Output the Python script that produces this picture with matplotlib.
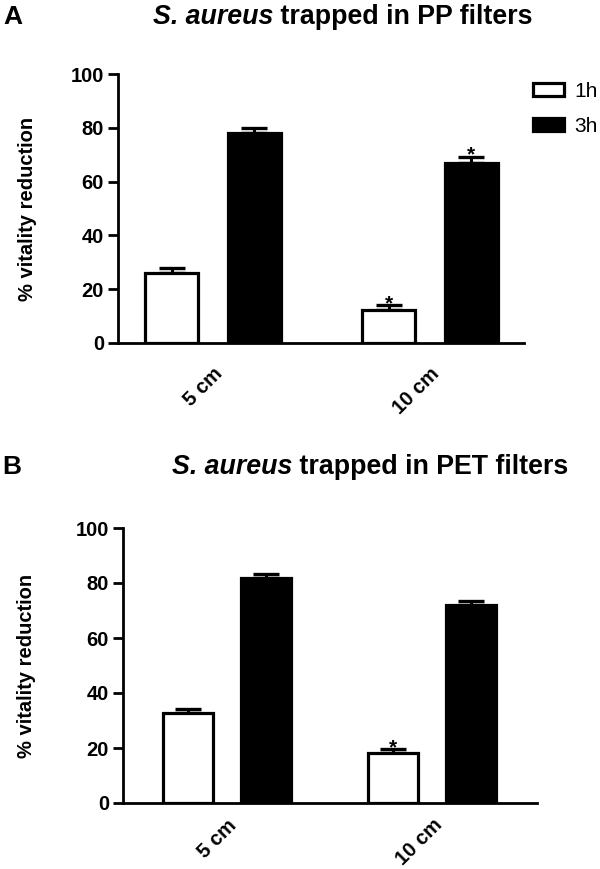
import numpy as np
from matplotlib import pyplot as plt

plt.rcParams['font.family'] = ['Liberation Sans', 'DejaVu Sans']

# data
distances = ["5 cm", "10 cm"]
times = ["1h", "3h"]

pp_1h = [26.0, 12.3]
pp_1h_err = [1.8, 1.8]
pp_3h = [78.0, 67.1]
pp_3h_err = [2.0, 2.2]
pp_stars_1h = ["", "*"]
pp_stars_3h = ["", "*"]

pet_1h = [32.7, 18.1]
pet_1h_err = [1.6, 1.5]
pet_3h = [81.8, 72.0]
pet_3h_err = [1.5, 1.4]
pet_stars_1h = ["", "*"]
pet_stars_3h = ["", ""]

yticks = [0, 20, 40, 60, 80, 100]

W, H = 600, 869
fig = plt.figure(figsize=(W / 100, H / 100), dpi=100)


def fx(px):
    return px / W


def fy(py):
    return 1 - py / H


def panel(rect, v1, e1, v3, e3, s1, s3, xlim, xpad):
    ax = fig.add_axes(rect)
    x = np.arange(len(distances))
    off = 0.19
    wid = 0.245
    b1 = ax.bar(x - off, v1, wid, color="white", edgecolor="black", linewidth=2.3, label=times[0], zorder=3)
    b3 = ax.bar(x + off, v3, wid, color="black", edgecolor="black", linewidth=2.3, label=times[1], zorder=3)
    ax.errorbar(x - off, v1, yerr=[np.zeros(len(v1)), e1], fmt="none", ecolor="black",
                elinewidth=2.2, capsize=9.5, capthick=2.4, zorder=2)
    ax.errorbar(x + off, v3, yerr=[np.zeros(len(v3)), e3], fmt="none", ecolor="black",
                elinewidth=2.2, capsize=9.5, capthick=2.4, zorder=2)
    for xi, v, e, s in zip(x - off, v1, e1, s1):
        if s:
            ax.text(xi, v + e - 1.5, s, ha="center", va="baseline", fontsize=15, fontweight="bold")
    for xi, v, e, s in zip(x + off, v3, e3, s3):
        if s:
            ax.text(xi, v + e - 1.5, s, ha="center", va="baseline", fontsize=15, fontweight="bold")
    ax.set_ylim(0, 100)
    ax.set_xlim(*xlim)
    ax.set_yticks(yticks)
    ax.set_xticks(x)
    ax.set_xticklabels(distances, rotation=45, ha="right", rotation_mode="anchor",
                       fontsize=14.5, fontweight="bold")
    for lab in ax.get_yticklabels():
        lab.set_fontweight("bold")
        lab.set_fontsize(14.5)
    ax.spines["top"].set_visible(False)
    ax.spines["right"].set_visible(False)
    ax.spines["left"].set_linewidth(2.0)
    ax.spines["bottom"].set_linewidth(2.0)
    ax.tick_params(axis="y", length=7, width=2.0, pad=3)
    ax.tick_params(axis="x", length=0, pad=xpad)
    ax.set_ylabel("% vitality reduction", fontsize=14.5, fontweight="bold")
    return ax, b1, b3


ax1, h1, h3 = panel([fx(118), fy(343), fx(524) - fx(118), fy(74) - fy(343)],
                    pp_1h, pp_1h_err, pp_3h, pp_3h_err, pp_stars_1h, pp_stars_3h,
                    (-0.438, 1.433), 15)
ax2, _, _ = panel([fx(123), fy(803), fx(537) - fx(123), fy(528) - fy(803)],
                  pet_1h, pet_1h_err, pet_3h, pet_3h_err, pet_stars_1h, pet_stars_3h,
                  (-0.507, 1.51), 9)
ax1.yaxis.set_label_coords(-0.20, 0.5)
ax2.yaxis.set_label_coords(-0.21, 0.5)

ax1.legend(handles=[h1, h3], labels=times, loc="upper left", bbox_to_anchor=(fx(533), fy(82)),
           bbox_transform=fig.transFigure, frameon=False, fontsize=15, borderpad=0,
           borderaxespad=0, handlelength=1.5, handleheight=0.55, handletextpad=0.5,
           labelspacing=0.75)

# panel letters and titles
fig.text(fx(3), fy(24), "A", fontsize=19, fontweight="bold", va="baseline")
fig.text(fx(2), fy(474), "B", fontsize=19, fontweight="bold", va="baseline")

t1 = fig.text(fx(153), fy(24), "S. aureus", fontsize=19.3, fontweight="bold", style="italic", va="baseline")
ax1.annotate(" trapped in PP filters", xy=(1, 0), xycoords=t1, va="bottom", ha="left",
             fontsize=19.3, fontweight="bold", annotation_clip=False)
t2 = fig.text(fx(172), fy(474), "S. aureus", fontsize=19.3, fontweight="bold", style="italic", va="baseline")
ax2.annotate(" trapped in PET filters", xy=(1, 0), xycoords=t2, va="bottom", ha="left",
             fontsize=19.3, fontweight="bold", annotation_clip=False)

fig.savefig("out.png", dpi=100)
